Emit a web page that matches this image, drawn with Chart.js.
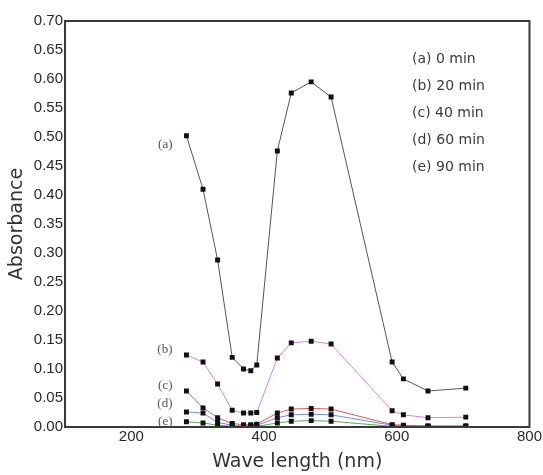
<!DOCTYPE html>
<html>
<head>
<meta charset="utf-8">
<script src="https://cdn.jsdelivr.net/npm/chart.js@4"></script>
<style>
  html, body { margin: 0; padding: 0; background: #fff; }
  #wrap { width: 543px; height: 475px; }
</style>
</head>
<body>
<div id="wrap"><canvas id="absChart" width="543" height="475"></canvas></div>
<script>
// wavelengths (nm)
const wavelengths = [283, 308, 330, 352, 369, 380, 389, 420, 441, 471, 501, 593, 610, 647, 704];

const seriesA = [0.502, 0.410, 0.288, 0.120, 0.100, 0.097, 0.107, 0.476, 0.576, 0.595, 0.569, 0.112, 0.083, 0.062, 0.067];
const seriesB = [0.124, 0.112, 0.074, 0.029, 0.024, 0.024, 0.025, 0.119, 0.145, 0.148, 0.143, 0.028, 0.021, 0.016, 0.017];
const seriesC = [0.062, 0.033, 0.016, 0.006, 0.004, 0.004, 0.005, 0.024, 0.031, 0.032, 0.031, 0.004, 0.003, 0.002, 0.002];
const seriesD = [0.026, 0.024, 0.008, 0.003, 0.002, 0.002, 0.003, 0.016, 0.021, 0.022, 0.021, 0.003, 0.002, 0.001, 0.001];
const seriesE = [0.009, 0.007, 0.003, 0.001, 0.001, 0.001, 0.001, 0.007, 0.010, 0.011, 0.010, 0.001, 0.001, 0.000, 0.000];

const seriesTags = ['(a)', '(b)', '(c)', '(d)', '(e)'];
const legendNames = ['(a) 0 min', '(b) 20 min', '(c) 40 min', '(d) 60 min', '(e) 90 min'];
const xTicks = [200, 400, 600, 800];

// where the small (a)..(e) tags sit, in data units
const tagX = 262;
const tagY = [0.487, 0.133, 0.072, 0.040, 0.010];

const lineColors = ['#555555', '#e07ee0', '#e05a5a', '#6f8fe0', '#5aaa5a'];
const allSeries = [seriesA, seriesB, seriesC, seriesD, seriesE];

const datasets = allSeries.map((vals, i) => ({
    label: legendNames[i],
    data: wavelengths.map((w, j) => ({ x: w, y: vals[j] })),
    borderColor: lineColors[i],
    borderWidth: 1,
    pointStyle: 'rect',
    pointRadius: 3.5,
    pointBackgroundColor: '#111',
    pointBorderColor: '#111',
    pointBorderWidth: 0,
    tension: 0,
    fill: false
})).reverse(); // (a) on top

const framePlugin = {
    id: 'frame',
    afterDraw(chart) {
        const { ctx, chartArea: a, scales } = chart;
        ctx.save();
        ctx.strokeStyle = '#3a3a3a';
        ctx.lineWidth = 2;
        ctx.strokeRect(a.left, a.top, a.right - a.left, a.bottom - a.top);

        // series tags next to the first points
        ctx.font = '13px "Liberation Serif", serif';
        ctx.fillStyle = '#555';
        ctx.textAlign = 'right';
        ctx.textBaseline = 'middle';
        seriesTags.forEach((t, i) => {
            ctx.fillText(t, scales.x.getPixelForValue(tagX), scales.y.getPixelForValue(tagY[i]));
        });

        // legend text block
        ctx.font = '14px "DejaVu Sans", sans-serif';
        ctx.fillStyle = '#3a3a3a';
        ctx.textAlign = 'left';
        legendNames.forEach((t, i) => {
            ctx.fillText(t, a.left + 347, a.top + 38 + i * 27);
        });
        ctx.restore();
    }
};

new Chart(document.getElementById('absChart').getContext('2d'), {
    type: 'line',
    data: { datasets: datasets },
    options: {
        responsive: false,
        animation: false,
        layout: { padding: { top: 21, right: 13, left: 0, bottom: 0 } },
        plugins: {
            legend: { display: false },
            tooltip: { enabled: false }
        },
        scales: {
            x: {
                type: 'linear',
                min: 100,
                max: 800,
                afterFit: s => { s.height = 48; },
                afterBuildTicks: s => { s.ticks = xTicks.map(v => ({ value: v })); },
                grid: { display: false, drawTicks: false },
                border: { display: false },
                ticks: {
                    padding: 1,
                    color: '#2a2a2a',
                    font: { family: 'Liberation Sans', size: 15 }
                },
                title: {
                    display: true,
                    text: 'Wave length (nm)',
                    color: '#333',
                    padding: { top: 0, bottom: 2 },
                    font: { family: 'DejaVu Sans', size: 19 }
                }
            },
            y: {
                min: 0,
                max: 0.7,
                afterFit: s => { s.width = 65; },
                grid: { display: false, drawTicks: false },
                border: { display: false },
                ticks: {
                    stepSize: 0.05,
                    padding: 2,
                    color: '#2a2a2a',
                    font: { family: 'Liberation Sans', size: 15 },
                    callback: v => v.toFixed(2)
                },
                title: {
                    display: true,
                    text: 'Absorbance',
                    color: '#333',
                    padding: { top: 6, bottom: 0 },
                    font: { family: 'DejaVu Sans', size: 19 }
                }
            }
        }
    },
    plugins: [framePlugin]
});
</script>
</body>
</html>
